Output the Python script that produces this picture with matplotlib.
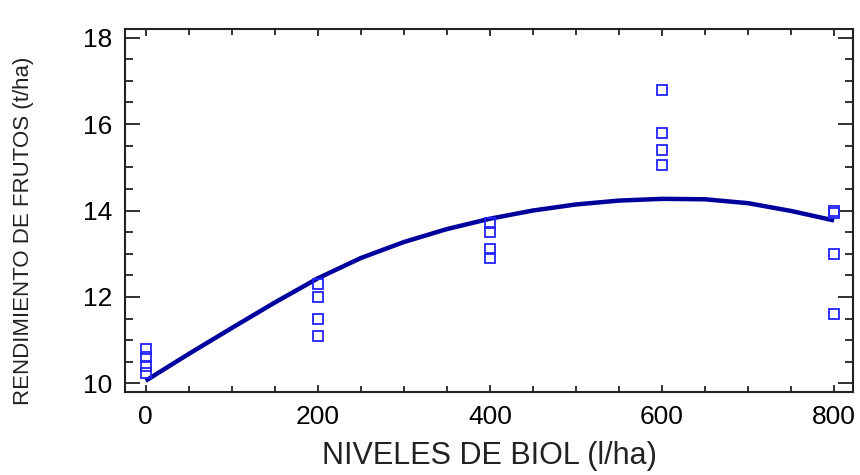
import matplotlib
matplotlib.use("Agg")
import matplotlib.pyplot as plt
from matplotlib.ticker import MultipleLocator

plt.rcParams['font.family'] = ['Liberation Sans', 'DejaVu Sans']

# observed yields per biol level
niveles = [0, 0, 0, 0,
           200, 200, 200, 200,
           400, 400, 400, 400,
           600, 600, 600, 600,
           800, 800, 800, 800]
rendimiento = [10.8, 10.6, 10.4, 10.25,
               12.3, 12.0, 11.5, 11.1,
               13.7, 13.5, 13.1, 12.9,
               16.8, 15.8, 15.4, 15.05,
               14.0, 13.95, 13.0, 11.6]

# fitted curve
curva_x = [0, 50, 100, 150, 200, 250, 300, 350, 400,
           450, 500, 550, 600, 650, 700, 750, 800]
curva_y = [10.06, 10.68, 11.28, 11.87, 12.43, 12.9, 13.27, 13.57, 13.81,
           14.0, 14.14, 14.23, 14.27, 14.26, 14.17, 13.99, 13.77]

fig = plt.figure(figsize=(8.6, 4.75), dpi=100)
ax = fig.add_axes([0.1453, 0.1747, 0.8466, 0.7642])

ax.plot(curva_x, curva_y, color='#00009c', lw=3.2, solid_capstyle='butt')
ax.plot(niveles, rendimiento, 's', ms=6.5, mfc='none', mec='#2222ff', mew=1.3,
        linestyle='none')

ax.set_xlim(-24, 822)
ax.set_ylim(9.8, 18.2)
ax.xaxis.set_major_locator(MultipleLocator(200))
ax.xaxis.set_minor_locator(MultipleLocator(50))
ax.yaxis.set_major_locator(MultipleLocator(2))
ax.yaxis.set_minor_locator(MultipleLocator(0.5))

ax.tick_params(axis='both', which='both', direction='in', top=True, right=True,
               color='#222222', width=1.3)
ax.tick_params(axis='y', which='major', length=10.8, labelsize=19, pad=9)
ax.tick_params(axis='y', which='minor', length=5.5)
ax.tick_params(axis='x', which='major', length=5, labelsize=19, pad=9)
ax.tick_params(axis='x', which='minor', length=4.5)

for s in ax.spines.values():
    s.set_linewidth(1.5)
    s.set_color('#222222')

ax.set_xlabel('NIVELES DE BIOL (l/ha)', fontsize=22, color='#222222', labelpad=9)
ax.set_ylabel('RENDIMIENTO DE FRUTOS (t/ha)', fontsize=16, color='#222222')
ax.yaxis.set_label_coords(-0.125, 0.445)

fig.savefig('out.png', dpi=100)
